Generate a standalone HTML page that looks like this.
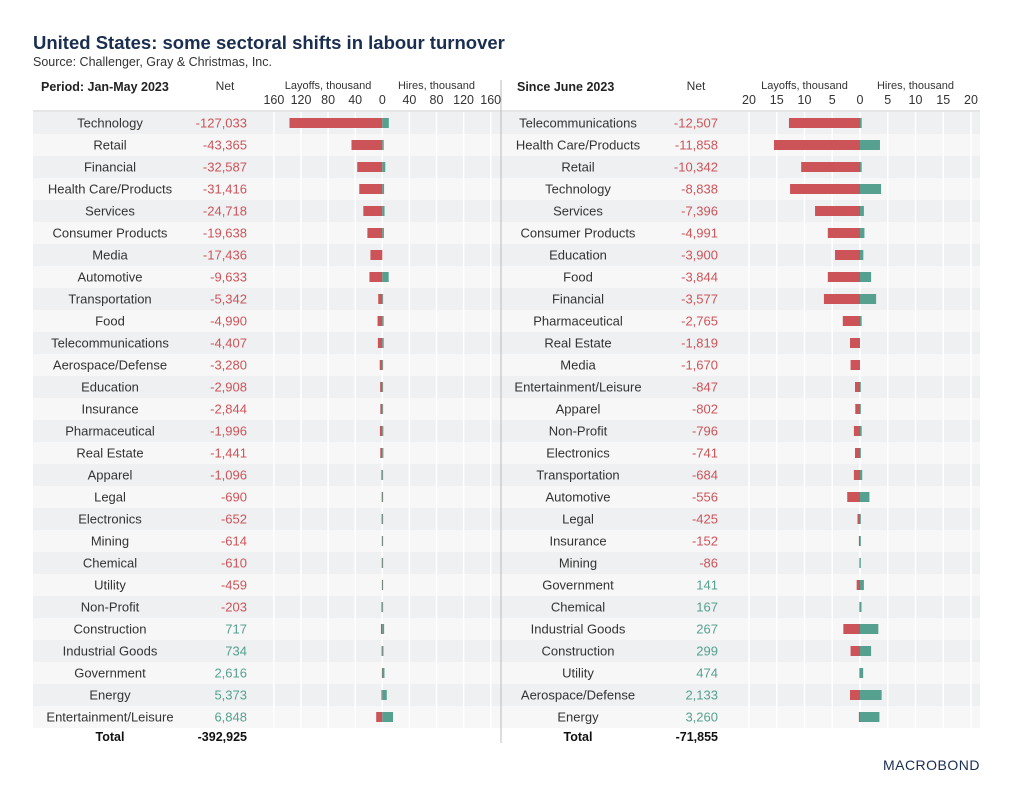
<!DOCTYPE html>
<html><head><meta charset="utf-8"><style>
body{margin:0;background:#fff;width:1013px;height:807px;overflow:hidden;font-family:"Liberation Sans",sans-serif}
svg text{font-family:"Liberation Sans",sans-serif}
</style></head><body>
<svg id="c" width="1013" height="807">
<text x="33" y="49" font-size="18.5" font-weight="bold" fill="#1a2e50">United States: some sectoral shifts in labour turnover</text>
<text x="33" y="66" font-size="12.5" fill="#333">Source: Challenger, Gray &amp; Christmas, Inc.</text>
<text x="980" y="770" font-size="14" fill="#1a2e50" text-anchor="end" letter-spacing="0.5">MACROBOND</text>
</svg>
<script>
const leftCats=["Technology","Retail","Financial","Health Care/Products","Services","Consumer Products","Media","Automotive","Transportation","Food","Telecommunications","Aerospace/Defense","Education","Insurance","Pharmaceutical","Real Estate","Apparel","Legal","Electronics","Mining","Chemical","Utility","Non-Profit","Construction","Industrial Goods","Government","Energy","Entertainment/Leisure"];
const leftNet=[-127033,-43365,-32587,-31416,-24718,-19638,-17436,-9633,-5342,-4990,-4407,-3280,-2908,-2844,-1996,-1441,-1096,-690,-652,-614,-610,-459,-203,717,734,2616,5373,6848];
const leftLayoffs=[137,45.5,37,34,28,22,17.5,19,6,7,6.5,3.8,3.2,2.9,3.5,3,1.3,0.9,1,0.7,0.8,0.6,1.2,2,1,0.6,1.2,9];
const leftHires=[9.6,2.1,4.4,2.6,3.3,2.4,0,9.4,0.7,2,2.1,0.5,0.3,0.1,1.5,1.6,0.2,0.2,0.35,0.1,0.2,0.15,1,2.7,1.7,3.2,6.6,15.8];
const leftTicks=[160,120,80,40,0,40,80,120,160];
const rightCats=["Telecommunications","Health Care/Products","Retail","Technology","Services","Consumer Products","Education","Food","Financial","Pharmaceutical","Real Estate","Media","Entertainment/Leisure","Apparel","Non-Profit","Electronics","Transportation","Automotive","Legal","Insurance","Mining","Government","Chemical","Industrial Goods","Construction","Utility","Aerospace/Defense","Energy"];
const rightNet=[-12507,-11858,-10342,-8838,-7396,-4991,-3900,-3844,-3577,-2765,-1819,-1670,-847,-802,-796,-741,-684,-556,-425,-152,-86,141,167,267,299,474,2133,3260];
const rightLayoffs=[12.8,15.5,10.6,12.6,8.1,5.8,4.5,5.8,6.5,3.1,1.8,1.7,0.9,0.85,1.1,0.9,1.1,2.3,0.45,0.2,0.1,0.6,0.1,3,1.7,0.1,1.8,0.2];
const rightHires=[0.3,3.6,0.3,3.8,0.7,0.8,0.6,2,2.9,0.3,0,0,0.05,0.05,0.3,0.15,0.4,1.7,0.03,0.05,0.01,0.7,0.27,3.3,2,0.57,3.9,3.5];
const rightTicks=[20,15,10,5,0,5,10,15,20];
const leftTotal="-392,925", rightTotal="-71,855";

const svg=document.getElementById('c');
const NS="http://www.w3.org/2000/svg";
function el(t,a,txt){const e=document.createElementNS(NS,t);for(const k in a)e.setAttribute(k,a[k]);if(txt!==undefined)e.textContent=txt;svg.appendChild(e);return e;}
const RED="#cc5459",GREEN="#55a08f";
const rowY=i=>112+i*22;
function fmt(n){const s=Math.abs(n).toLocaleString('en-US');return (n<0?'-':'')+s;}

function panel(o){
  o.cats.forEach((c,i)=>{
    const r=el('rect',{x:o.x0,y:rowY(i),width:o.x1-o.x0,height:22,fill:i%2?'#f7f7f7':'#eef0f2'});
    
    
  });
  const xs=v=>o.zero+v*o.scale;
  o.ticks.forEach((t,k)=>{
    const v=(k<4?-t:t);
    const x=xs(v);
    const g=el('line',{x1:x,x2:x,y1:106,y2:728,stroke:'#fff','stroke-width':1.5});
    
    
    const tt=el('text',{x:x,y:104,'font-size':12.5,'text-anchor':'middle',fill:'#333'},String(t));
    
    
  });
  const hl=el('line',{x1:o.x0,x2:o.x1,y1:111,y2:111,stroke:'#ccc'});
  
  
  const h=el('text',{x:o.hx,y:91,'font-size':12.5,'font-weight':'bold',fill:'#222','text-anchor':o.ha},o.title);
  
  
  const n=el('text',{x:o.netx-22,y:90,'font-size':12,fill:'#333','text-anchor':'middle'},'Net');
  
  
  const l1=el('text',{x:xs(-o.ticks[0]*0.5),y:89,'font-size':11,fill:'#333','text-anchor':'middle'},'Layoffs, thousand');
  
  
  const l2=el('text',{x:xs(o.ticks[0]*0.5),y:89,'font-size':11,fill:'#333','text-anchor':'middle'},'Hires, thousand');
  
  
  o.cats.forEach((c,i)=>{
    const cy=rowY(i)+11;
    const t=el('text',{x:o.labx,y:cy+4.5,'font-size':13,fill:'#333','text-anchor':'middle'},c);
    
    
    const v=o.net[i];
    const nt=el('text',{x:o.netx,y:cy+4.5,'font-size':13,fill:v<0?RED:GREEN,'text-anchor':'end'},fmt(v));
    
    
    const lw=o.lay[i]*o.scale;
    const b1=el('rect',{x:xs(-o.lay[i]),y:cy-5,width:Math.max(lw,0.8),height:10,fill:RED});
    
    
    const hw=o.hir[i]*o.scale;
    if(hw>0){
      const b2=el('rect',{x:xs(0),y:cy-5,width:Math.max(hw,0.8),height:10,fill:GREEN});
      
      
    }
  });
  const tl=el('text',{x:o.labx,y:741,'font-size':12.5,'font-weight':'bold',fill:'#111','text-anchor':'middle'},'Total');
  
  
  const tv=el('text',{x:o.netx,y:741,'font-size':12.5,'font-weight':'bold',fill:'#111','text-anchor':'end'},o.total);
  
  
}
panel({x0:33,x1:501,zero:382.3,scale:0.6775,ticks:leftTicks,cats:leftCats,net:leftNet,lay:leftLayoffs,hir:leftHires,title:'Period: Jan-May 2023',hx:41,ha:'start',labx:110,netx:247,total:leftTotal});
panel({x0:501,x1:980,zero:860,scale:5.55,ticks:rightTicks,cats:rightCats,net:rightNet,lay:rightLayoffs,hir:rightHires,title:'Since June 2023',hx:517,ha:'start',labx:578,netx:718,total:rightTotal});
const d=el('line',{x1:501,x2:501,y1:80,y2:743,stroke:'#bbb'});


</script>
</body></html>
